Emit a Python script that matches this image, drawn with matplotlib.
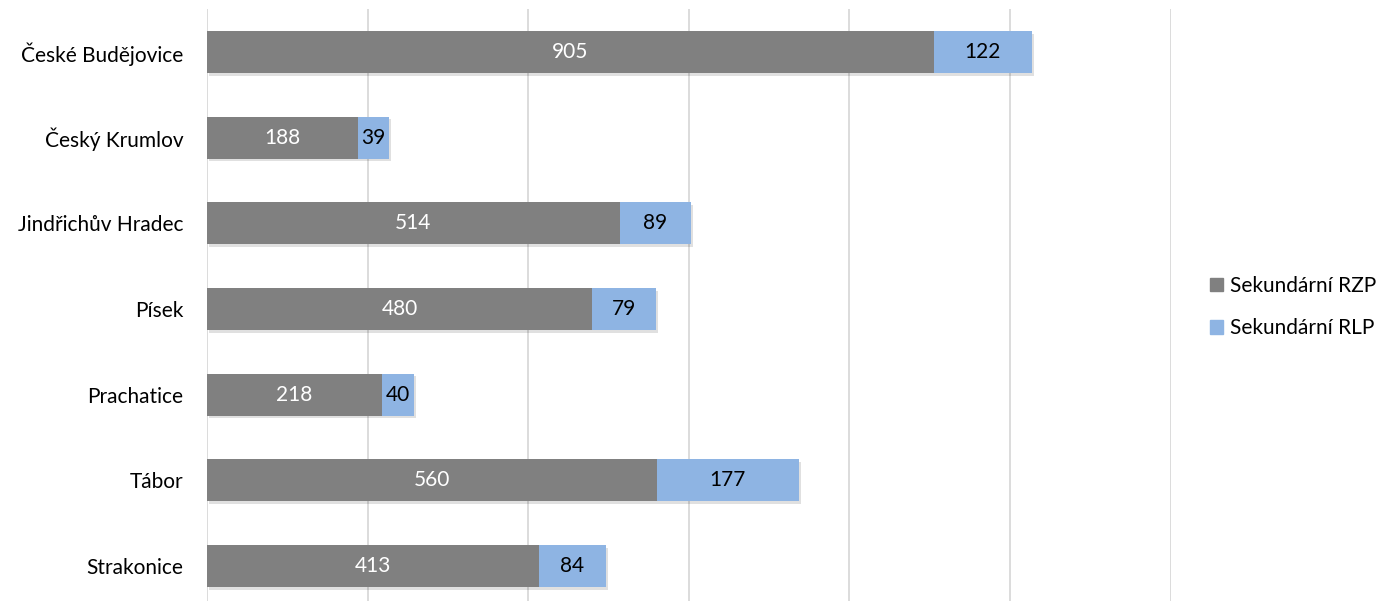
import matplotlib.pyplot as plt
import matplotlib.patheffects as pe
from matplotlib.patches import Patch

# data
districts = ["České Budějovice", "Český Krumlov", "Jindřichův Hradec", "Písek",
             "Prachatice", "Tábor", "Strakonice"]
rzp = [905, 188, 514, 480, 218, 560, 413]
rlp = [122, 39, 89, 79, 40, 177, 84]

grey = "#808080"
blue = "#8EB4E3"
fs = 15

plt.rcParams['font.family'] = ['Lato', 'DejaVu Sans']

fig = plt.figure(figsize=(13.87, 6.01), dpi=100)
ax = fig.add_axes([207/1387, -8/601, 963.6/1387, 600/601])

ypos = list(range(len(districts)))
shadow = [pe.SimplePatchShadow(offset=(1.5, -2), shadow_rgbFace="#000000", alpha=0.12), pe.Normal()]

ax.barh(ypos, rzp, height=0.49, color=grey, zorder=3, path_effects=shadow)
ax.barh(ypos, rlp, left=rzp, height=0.49, color=blue, zorder=3, path_effects=shadow)

for i in ypos:
    ax.text(rzp[i] / 2, i, str(rzp[i]), color="white", ha="center", va="center",
            fontsize=fs, zorder=4)
    ax.text(rzp[i] + rlp[i] / 2, i, str(rlp[i]), color="black", ha="center", va="center",
            fontsize=fs, zorder=4)

ax.set_xlim(0, 1200)
ax.set_ylim(len(districts) - 0.5, -0.5)
ax.set_xticks(range(0, 1201, 200))
ax.set_xticklabels([])
ax.tick_params(axis="x", length=0)
ax.tick_params(axis="y", length=0, labelsize=fs, pad=17)
ax.set_yticks(ypos)
ax.set_yticklabels(districts)
ax.grid(axis="x", color="#D9D9D9", linewidth=1.3, zorder=0)
for s in ax.spines.values():
    s.set_visible(False)

handles = [Patch(color=grey, label="Sekundární RZP"), Patch(color=blue, label="Sekundární RLP")]
fig.legend(handles=handles, loc="center left", bbox_to_anchor=(1210/1387, 294/601),
           frameon=False, fontsize=fs, handlelength=0.6, handleheight=0.6,
           handletextpad=0.35, labelspacing=1.1, borderaxespad=0, borderpad=0)

fig.savefig("out.png", dpi=100)
